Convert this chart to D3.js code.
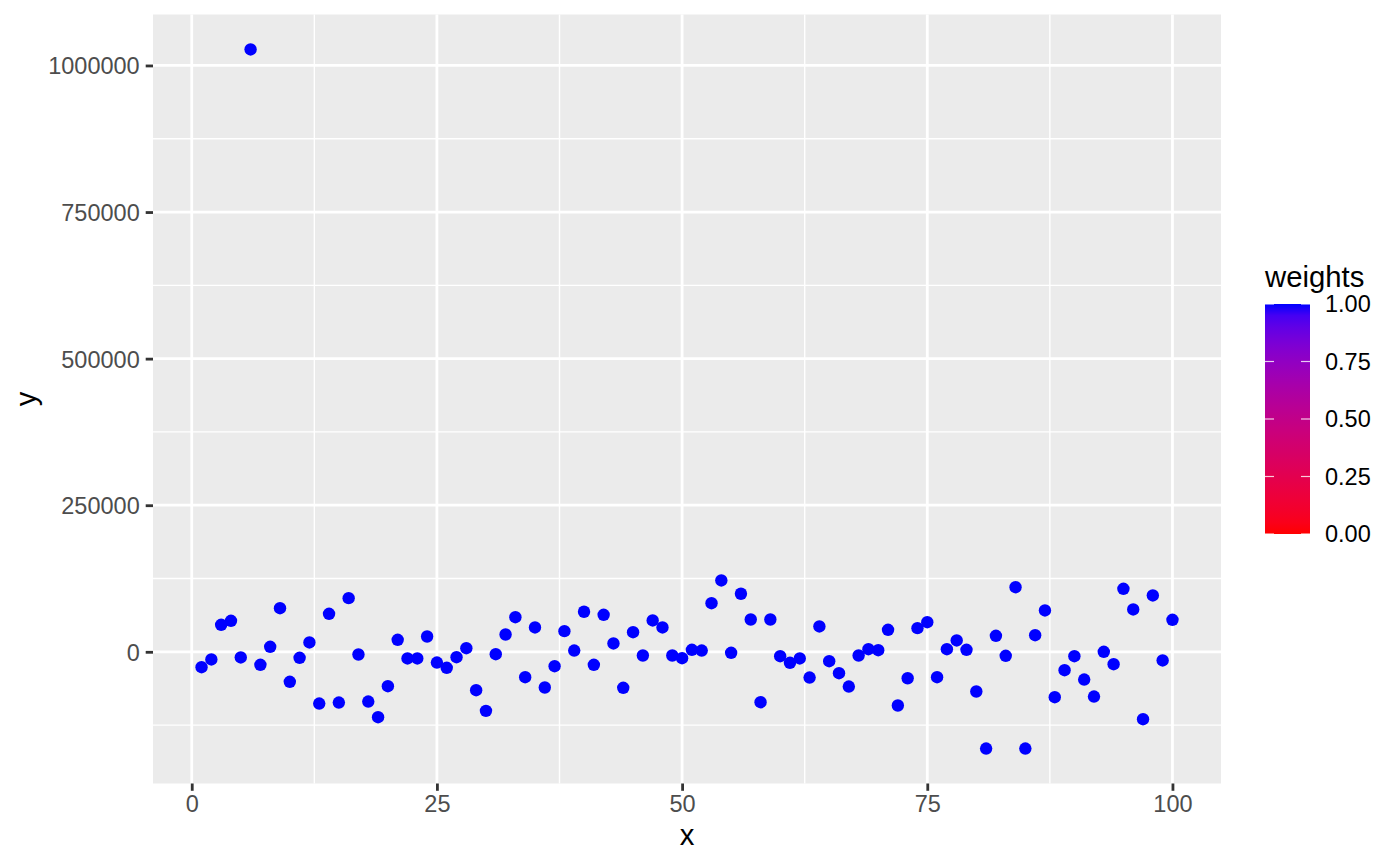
<!DOCTYPE html>
<html>
<head>
<meta charset="utf-8">
<script src="https://cdn.jsdelivr.net/npm/d3@7"></script>
<style>
  body { margin: 0; background: #fff; }
  text { font-family: "Liberation Sans", Arial, sans-serif; }
</style>
</head>
<body>
<div id="chart"></div>
<script>
// data
const xValues = [1,2,3,4,5,6,7,8,9,10,11,12,13,14,15,16,17,18,19,20,
  21,22,23,24,25,26,27,28,29,30,31,32,33,34,35,36,37,38,39,40,
  41,42,43,44,45,46,47,48,49,50,51,52,53,54,55,56,57,58,59,60,
  61,62,63,64,65,66,67,68,69,70,71,72,73,74,75,76,77,78,79,80,
  81,82,83,84,85,86,87,88,89,90,91,92,93,94,95,96,97,98,99,100];
const yValues = [-26300,-13100,46100,52900,-9700,1027300,-22200,8500,74400,-51200,
  -10200,15900,-88200,64800,-86500,91500,-4600,-84800,-111600,-58700,
  20500,-11400,-11400,26100,-18300,-27300,-9200,6100,-65500,-100700,
  -4100,29500,59000,-43300,41500,-60900,-24600,35200,2200,68300,
  -22200,63100,14200,-61400,33400,-6300,53400,41500,-6300,-10900,
  3400,2200,82900,121700,-1700,99000,55100,-86000,55100,-7500,
  -18800,-11400,-43900,43200,-16000,-36500,-59200,-6300,4400,2700,
  37500,-91600,-45100,40300,50500,-43300,4400,19300,3400,-67700,
  -165000,27300,-6800,110200,-165000,28300,70500,-77500,-31400,-7500,
  -47300,-76300,0,-21200,107500,72200,-115000,96100,-14800,54600];
const weights = [1,1,1,1,1,1,1,1,1,1,1,1,1,1,1,1,1,1,1,1,
  1,1,1,1,1,1,1,1,1,1,1,1,1,1,1,1,1,1,1,1,
  1,1,1,1,1,1,1,1,1,1,1,1,1,1,1,1,1,1,1,1,
  1,1,1,1,1,1,1,1,1,1,1,1,1,1,1,1,1,1,1,1,
  1,1,1,1,1,1,1,1,1,1,1,1,1,1,1,1,1,1,1,1];
const xTicks = [0, 25, 50, 75, 100];
const xMinor = [12.5, 37.5, 62.5, 87.5];
const yTicks = [0, 250000, 500000, 750000, 1000000];
const yMinor = [-125000, 125000, 375000, 625000, 875000];
const legendTicks = [0, 0.25, 0.5, 0.75, 1];

const width = 1400, height = 866;
const panel = {left: 153, right: 1221, top: 14.5, bottom: 783.5};

const svg = d3.select('#chart').append('svg')
    .attr('width', width).attr('height', height);

// ggplot style 5% expansion
function expand(ext){
    let pad = (ext[1] - ext[0]) * 0.05;
    return [ext[0] - pad, ext[1] + pad];
}

const x_scale = d3.scaleLinear().domain(expand(d3.extent(xValues))).range([panel.left, panel.right]);
const y_scale = d3.scaleLinear().domain(expand(d3.extent(yValues))).range([panel.bottom, panel.top]);
const color_scale = d3.scaleLinear().domain([0, 1]).range(['red', 'blue']).interpolate(d3.interpolateLab);

// panel background + grid
svg.append('rect')
    .attr('x', panel.left).attr('y', panel.top)
    .attr('width', panel.right - panel.left).attr('height', panel.bottom - panel.top)
    .attr('fill', '#EBEBEB');

const grid = svg.append('g').attr('class', 'grid').attr('stroke', '#fff');
grid.selectAll('.minor-x').data(xMinor).join('line')
    .attr('x1', d => x_scale(d)).attr('x2', d => x_scale(d))
    .attr('y1', panel.top).attr('y2', panel.bottom)
    .attr('stroke-width', 1.4);
grid.selectAll('.minor-y').data(yMinor).join('line')
    .attr('y1', d => y_scale(d)).attr('y2', d => y_scale(d))
    .attr('x1', panel.left).attr('x2', panel.right)
    .attr('stroke-width', 1.4);
grid.selectAll('.major-x').data(xTicks).join('line')
    .attr('x1', d => x_scale(d)).attr('x2', d => x_scale(d))
    .attr('y1', panel.top).attr('y2', panel.bottom)
    .attr('stroke-width', 2.8);
grid.selectAll('.major-y').data(yTicks).join('line')
    .attr('y1', d => y_scale(d)).attr('y2', d => y_scale(d))
    .attr('x1', panel.left).attr('x2', panel.right)
    .attr('stroke-width', 2.8);

// axes
let laxis = svg.append('g')
    .attr('class', 'left-axis')
    .attr('transform', `translate(${panel.left},0)`)
    .call(d3.axisLeft(y_scale).tickValues(yTicks).tickFormat(d3.format('d')).tickSize(7.3).tickPadding(6));
let baxis = svg.append('g')
    .attr('class', 'bottom-axis')
    .attr('transform', `translate(0,${panel.bottom})`)
    .call(d3.axisBottom(x_scale).tickValues(xTicks).tickSize(7.3).tickPadding(5));

svg.selectAll('.left-axis, .bottom-axis').call(g => {
    g.select('.domain').remove();
    g.selectAll('.tick line').attr('stroke', '#333333').attr('stroke-width', 2.8);
    g.selectAll('.tick text')
        .attr('fill', '#4D4D4D')
        .style('font-size', '23.5px')
        .style('font-family', '"Liberation Sans", Arial, sans-serif');
});
laxis.selectAll('.tick text').attr('dy', '0.36em');
baxis.selectAll('.tick text').attr('dy', '0').attr('y', 28.8);

// axis titles
svg.append('text')
    .attr('x', (panel.left + panel.right) / 2).attr('y', 845)
    .attr('text-anchor', 'middle')
    .style('font-size', '29.3px')
    .text('x');
svg.append('text')
    .attr('transform', `translate(36,${(panel.top + panel.bottom) / 2}) rotate(-90)`)
    .attr('text-anchor', 'middle')
    .style('font-size', '29.3px')
    .text('y');

// points
svg.append('g')
    .attr('class', 'plot-chart')
    .selectAll('circle')
    .data(xValues.map((x, i) => ({x: x, y: yValues[i], w: weights[i]})))
    .join('circle')
    .attr('cx', d => x_scale(d.x))
    .attr('cy', d => y_scale(d.y))
    .attr('r', 6.2)
    .attr('fill', d => color_scale(d.w));

// legend colourbar
const bar = {x: 1265, w: 45, top: 304, bottom: 534};
const leg_scale = d3.scaleLinear().domain([0, 1]).range([bar.bottom, bar.top]);

const defs = svg.append('defs');
const grad = defs.append('linearGradient')
    .attr('id', 'weights-grad')
    .attr('x1', 0).attr('y1', 1).attr('x2', 0).attr('y2', 0);
grad.selectAll('stop')
    .data(d3.range(0, 1.0001, 0.05))
    .join('stop')
    .attr('offset', d => d)
    .attr('stop-color', d => color_scale(d));

const legend = svg.append('g').attr('class', 'legend');
legend.append('text')
    .attr('x', bar.x).attr('y', 287)
    .style('font-size', '29.3px')
    .text('weights');
legend.append('rect')
    .attr('x', bar.x).attr('y', bar.top)
    .attr('width', bar.w).attr('height', bar.bottom - bar.top)
    .attr('fill', 'url(#weights-grad)');

legend.selectAll('.tick-l').data(legendTicks).join('line')
    .attr('x1', bar.x).attr('x2', bar.x + 9)
    .attr('y1', d => leg_scale(d)).attr('y2', d => leg_scale(d))
    .attr('stroke', '#fff').attr('stroke-opacity', 0.8).attr('stroke-width', 1.2);
legend.selectAll('.tick-r').data(legendTicks).join('line')
    .attr('x1', bar.x + bar.w - 9).attr('x2', bar.x + bar.w)
    .attr('y1', d => leg_scale(d)).attr('y2', d => leg_scale(d))
    .attr('stroke', '#fff').attr('stroke-opacity', 0.8).attr('stroke-width', 1.2);

legend.selectAll('.leg-label').data(legendTicks).join('text')
    .attr('x', 1325)
    .attr('y', d => leg_scale(d))
    .attr('dy', '0.36em')
    .style('font-size', '23.5px')
    .attr('fill', '#000')
    .text(d => d3.format('.2f')(d));
</script>
</body>
</html>
